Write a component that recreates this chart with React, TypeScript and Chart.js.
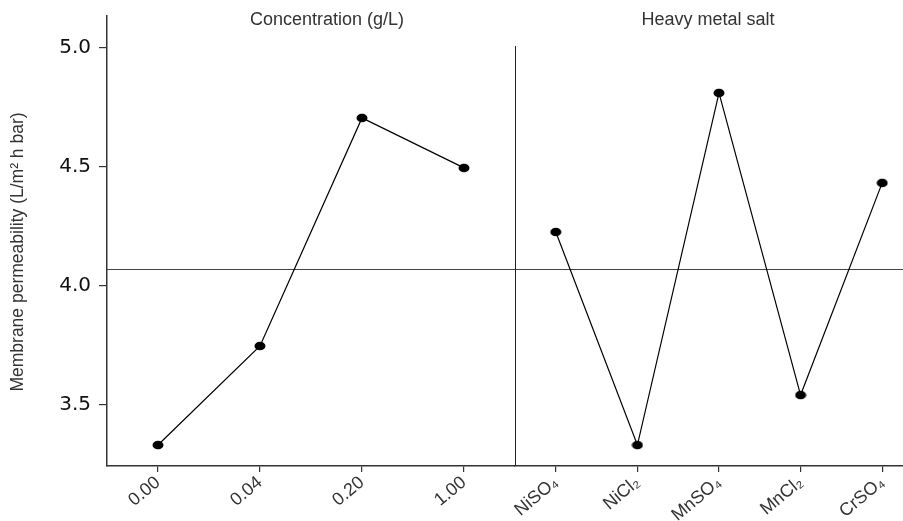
import React, { useEffect, useRef } from "react";
import { Chart, registerables } from "chart.js";

Chart.register(...registerables);

// ---- data ----
const CONCENTRATION_LABELS = ["0.00", "0.04", "0.20", "1.00"];
const CONCENTRATION_VALUES = [3.332, 3.748, 4.706, 4.496];
const SALT_LABELS = ["NiSO₄", "NiCl₂", "MnSO₄", "MnCl₂", "CrSO₄"];
const SALT_VALUES = [4.227, 3.332, 4.811, 3.542, 4.433];
const GRAND_MEAN = 4.071;
const Y_TICKS = [3.5, 4.0, 4.5, 5.0];
const Y_MIN = 3.244;
const Y_MAX = 5.134;
const PANEL_TITLES = ["Concentration (g/L)", "Heavy metal salt"];
const Y_TITLE = "Membrane permeability (L/m² h bar)";

// ---- layout ----
const VISIBLE_W = 903;
const CANVAS_W = 923;
const CANVAS_H = 521;
const PANEL_TITLE_X = [327, 708];
const Y_TITLE_POS = { x: 18, y: 252 };
const AXIS_COLOR = "#333";

function makeMarker(): HTMLCanvasElement {
  const c = document.createElement("canvas");
  c.width = 12;
  c.height = 10;
  const ctx = c.getContext("2d")!;
  ctx.fillStyle = "#000";
  ctx.beginPath();
  ctx.ellipse(6, 5, 5.5, 4.3, 0, 0, Math.PI * 2);
  ctx.fill();
  return c;
}

const panelPlugin = {
  id: "panelDecor",
  beforeDatasetsDraw(chart: any) {
    const { ctx, chartArea } = chart;
    const y = chart.scales.y;
    const x1 = chart.scales.x1;
    ctx.save();
    // grand mean line
    const my = Math.round(y.getPixelForValue(GRAND_MEAN)) + 0.5;
    ctx.strokeStyle = "#444";
    ctx.lineWidth = 1;
    ctx.beginPath();
    ctx.moveTo(chartArea.left, my);
    ctx.lineTo(chartArea.right, my);
    ctx.stroke();
    // divider between panels
    const dx = Math.round(x1.right) + 0.5;
    ctx.strokeStyle = "#222";
    ctx.beginPath();
    ctx.moveTo(dx, chartArea.top + 30);
    ctx.lineTo(dx, chartArea.bottom);
    ctx.stroke();
    // panel titles
    ctx.fillStyle = "#333";
    ctx.font = "18px 'Liberation Sans', Arial, sans-serif";
    ctx.textAlign = "center";
    ctx.textBaseline = "middle";
    ctx.fillText(PANEL_TITLES[0], PANEL_TITLE_X[0], 20);
    ctx.fillText(PANEL_TITLES[1], PANEL_TITLE_X[1], 20);
    // y-axis title
    ctx.translate(Y_TITLE_POS.x, Y_TITLE_POS.y);
    ctx.rotate(-Math.PI / 2);
    ctx.font = "17.5px 'Liberation Sans', Arial, sans-serif";
    ctx.fillText(Y_TITLE, 0, 0);
    ctx.restore();
  },
};

function xAxis(labels: string[]) {
  return {
    type: "category" as const,
    labels,
    position: "bottom" as const,
    stack: "bottomStack",
    offset: true,
    afterFit: (s: any) => {
      s.height = 55;
      s.paddingLeft = 0;
      s.paddingRight = 0;
    },
    grid: {
      display: true,
      drawOnChartArea: false,
      drawTicks: true,
      tickLength: 6,
      color: AXIS_COLOR,
      lineWidth: 1.2,
    },
    border: { display: true, color: AXIS_COLOR, width: 1.5 },
    ticks: {
      autoSkip: false,
      minRotation: 40,
      maxRotation: 40,
      padding: 0,
      color: "#333",
      font: { family: "'Liberation Sans', Arial, sans-serif", size: 18 },
    },
  };
}

export default function App() {
  const ref = useRef<HTMLCanvasElement>(null);

  useEffect(() => {
    if (!ref.current) return;
    const marker = makeMarker();
    const chart = new Chart(ref.current, {
      type: "line",
      data: {
        datasets: [
          {
            label: "Concentration",
            data: CONCENTRATION_VALUES,
            xAxisID: "x1",
            yAxisID: "y",
            borderColor: "#000",
            borderWidth: 1.2,
            pointStyle: marker as any,
            pointRadius: 5,
            backgroundColor: "#000",
            tension: 0,
          },
          {
            label: "Heavy metal salt",
            data: SALT_VALUES,
            xAxisID: "x2",
            yAxisID: "y",
            borderColor: "#000",
            borderWidth: 1.2,
            pointStyle: marker as any,
            pointRadius: 5,
            backgroundColor: "#000",
            tension: 0,
          },
        ],
      },
      options: {
        animation: false,
        responsive: false,
        maintainAspectRatio: false,
        devicePixelRatio: 1,
        layout: { autoPadding: false, padding: { top: 16, right: 0, bottom: 0, left: 0 } },
        plugins: {
          legend: { display: false },
          tooltip: { enabled: false },
        },
        scales: {
          x1: xAxis(CONCENTRATION_LABELS),
          x2: xAxis(SALT_LABELS),
          y: {
            type: "linear",
            position: "left",
            min: Y_MIN,
            max: Y_MAX,
            afterBuildTicks: (s: any) => {
              s.ticks = Y_TICKS.map((v) => ({ value: v }));
            },
            afterFit: (s: any) => {
              s.width = 107;
              s.paddingTop = 0;
              s.paddingBottom = 0;
            },
            grid: {
              display: true,
              drawOnChartArea: false,
              drawTicks: true,
              tickLength: 8,
              color: AXIS_COLOR,
              lineWidth: 1.2,
            },
            border: { display: true, color: AXIS_COLOR, width: 1.5 },
            ticks: {
              padding: 8,
              color: "#111",
              font: { family: "'DejaVu Sans', Verdana, sans-serif", size: 20 },
              callback: (v: any) => Number(v).toFixed(1),
            },
            title: { display: false },
          },
        },
      },
      plugins: [panelPlugin],
    });
    return () => chart.destroy();
  }, []);

  return (
    <div
      style={{
        position: "fixed",
        left: 0,
        top: 0,
        width: VISIBLE_W,
        height: CANVAS_H,
        overflow: "hidden",
        background: "#fff",
      }}
    >
      <canvas
        ref={ref}
        width={CANVAS_W}
        height={CANVAS_H}
        style={{ width: CANVAS_W, height: CANVAS_H, display: "block" }}
      />
    </div>
  );
}
